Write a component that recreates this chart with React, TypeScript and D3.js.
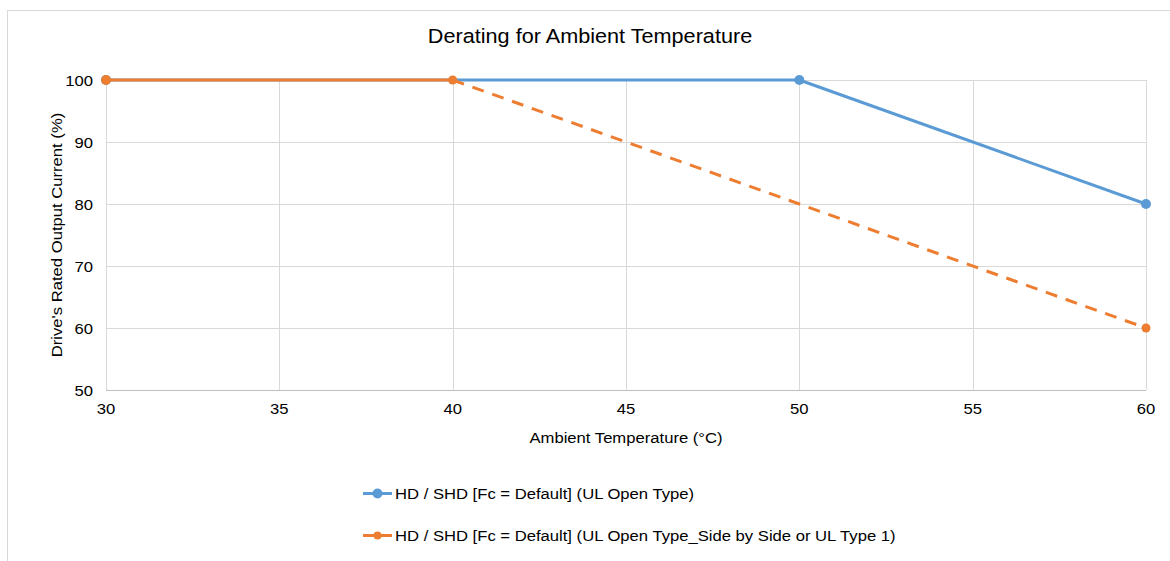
import React from "react";
import * as d3 from "d3";

const xTicks = [30, 35, 40, 45, 50, 55, 60];
const yTicks = [50, 60, 70, 80, 90, 100];
const blueX = [30, 50, 60];
const blueY = [100, 100, 80];
const orangeX = [30, 40, 60];
const orangeY = [100, 100, 60];
const title = "Derating for Ambient Temperature";
const xLabel = "Ambient Temperature (°C)";
const yLabel = "Drive's Rated Output Current (%)";
const legendLabels = [
  "HD / SHD [Fc = Default] (UL Open Type)",
  "HD / SHD [Fc = Default] (UL Open Type_Side by Side or UL Type 1)",
];

const BLUE = "#5B9BD5";
const ORANGE = "#ED7D31";
const SX = 1.11;

function T({ x, y, size, anchor, rotate, children }: any) {
  const tr = `translate(${x},${y})` + (rotate ? ` rotate(${rotate})` : "") + ` scale(${SX},1)`;
  return (
    <text transform={tr} textAnchor={anchor || "start"} fontSize={size} fill="#000">{children}</text>
  );
}

export default function App() {
  const W = 1170, H = 561;
  const x = d3.scaleLinear().domain([30, 60]).range([106, 1146]);
  const y = d3.scaleLinear().domain([50, 100]).range([390, 80]);
  const line = d3.line<[number, number]>().x(d => x(d[0])).y(d => y(d[1]));
  const blue: [number, number][] = blueX.map((v, i) => [v, blueY[i]]);
  const orange: [number, number][] = orangeX.map((v, i) => [v, orangeY[i]]);
  const font = "'Liberation Sans', Arial, sans-serif";
  return (
    <svg width={W} height={H} style={{ position: "absolute", left: 0, top: 0 }} fontFamily={font}>
      <rect x={0} y={0} width={W} height={H} fill="#fff" />
      <rect x={7.5} y={10.5} width={1170} height={600} fill="#fff" stroke="#d9d9d9" />
      <T x={590} y={43} size={19.5} anchor="middle">{title}</T>
      {xTicks.map(t => (
        <line key={"gx" + t} x1={Math.round(x(t)) + 0.5} x2={Math.round(x(t)) + 0.5} y1={y(100)} y2={y(50)} stroke="#d9d9d9" />
      ))}
      {yTicks.map(t => (
        <line key={"gy" + t} x1={x(30)} x2={x(60)} y1={Math.round(y(t)) + 0.5} y2={Math.round(y(t)) + 0.5} stroke={t === 50 ? "#bfbfbf" : "#d9d9d9"} />
      ))}
      {yTicks.map(t => (
        <T key={"yt" + t} x={93} y={y(t) + 5.5} size={15} anchor="end">{t}</T>
      ))}
      {xTicks.map(t => (
        <T key={"xt" + t} x={x(t)} y={414} size={15} anchor="middle">{t}</T>
      ))}
      <T x={626} y={443} size={15} anchor="middle">{xLabel}</T>
      <T x={62} y={235} size={15} anchor="middle" rotate={-90}>{yLabel}</T>
      <path d={line(blue) || ""} fill="none" stroke={BLUE} strokeWidth={3} strokeLinejoin="round" />
      {blue.map((d, i) => (
        <circle key={"bm" + i} cx={x(d[0])} cy={y(d[1])} r={5} fill={BLUE} />
      ))}
      <path d={line(orange.slice(0, 2)) || ""} fill="none" stroke={ORANGE} strokeWidth={3} />
      <path d={line(orange.slice(1)) || ""} fill="none" stroke={ORANGE} strokeWidth={3} strokeDasharray="12 9" />
      {orange.map((d, i) => (
        <circle key={"om" + i} cx={x(d[0])} cy={y(d[1])} r={i === 0 ? 5 : 4.5} fill={ORANGE} />
      ))}
      {legendLabels.map((lab, i) => {
        const ly = 493.5 + i * 42;
        const c = i === 0 ? BLUE : ORANGE;
        return (
          <g key={"lg" + i}>
            <line x1={363} x2={392} y1={ly} y2={ly} stroke={c} strokeWidth={3} />
            <circle cx={377.5} cy={ly} r={i === 0 ? 5 : 4} fill={c} />
            <T x={395} y={ly + 5.5} size={15}>{lab}</T>
          </g>
        );
      })}
    </svg>
  );
}
